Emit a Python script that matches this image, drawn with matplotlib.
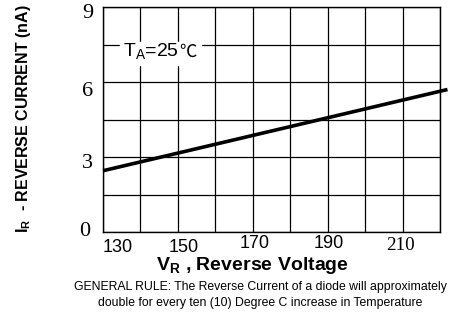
import matplotlib
matplotlib.use("Agg")
import matplotlib.pyplot as plt

# reverse voltage (V) vs reverse current (nA)
vr = [130, 222]
ir = [2.45, 5.7]

x_ticks = [130, 150, 170, 190, 210]
y_ticks = [9, 6, 3, 0]

W, H = 466, 313
SANS = "Liberation Sans"
SERIF = "Liberation Serif"

fig = plt.figure(figsize=(W / 100, H / 100), dpi=100)
ax = fig.add_axes([103 / W, 1 - 232 / H, 337 / W, 225 / H])

ax.set_xlim(130, 220)
ax.set_ylim(0, 9)
ax.set_xticks(range(130, 221, 10))
ax.set_yticks([i * 1.5 for i in range(7)])
ax.grid(True, color="black", lw=0.9)
ax.tick_params(length=0, labelbottom=False, labelleft=False)
for s in ax.spines.values():
    s.set_linewidth(1.0)
ax.set_axisbelow(True)

ax.plot(vr, ir, color="black", lw=2.6, clip_on=False, solid_capstyle="butt")


def px(x, y):
    return x / W, 1 - y / H


# tick labels placed by hand (the datasheet mixes fonts and baselines)
y_pos = {9: (93, 13.5), 6: (93, 92), 3: (93, 163.5), 0: (90, 231)}
for v in y_ticks:
    fig.text(*px(*y_pos[v]), str(v), ha="right", va="center",
             fontsize=16, family=SERIF)

x_pos = {130: (118, 247.5), 150: (184, 247.5), 170: (255, 244),
         190: (329, 244), 210: (400, 245.5)}
for v in x_ticks:
    serif = v == 210
    fig.text(*px(*x_pos[v]), str(v), ha="center", va="center",
             fontsize=13.8 if serif else 13, family=SERIF if serif else SANS)

# ambient temperature note with white box over the grid
fig.patches.append(plt.Rectangle(px(120, 65), 81 / W, 23 / H, color="white",
                                 transform=fig.transFigure, zorder=3))
fig.text(*px(123, 52), r"T$_\mathregular{A}$=25", ha="left", va="center",
         fontsize=14, family=SANS, zorder=4)
fig.text(*px(179, 52), "℃", ha="left", va="center", fontsize=12.5,
         family=["Noto Sans CJK SC", "DejaVu Sans"], fontweight="light", zorder=4)

fig.text(*px(24, 119), r"I$_\mathregular{R}$  - REVERSE CURRENT (nA)",
         rotation=90, ha="center", va="center", fontsize=11.5,
         fontweight="bold", family=SANS)

fig.text(*px(252, 265), r"V$_\mathregular{R}$ , Reverse Voltage",
         ha="center", va="center", fontsize=14, fontweight="bold",
         family=SANS)
fig.text(*px(260, 287),
         "GENERAL RULE: The Reverse Current of a diode will approximately",
         ha="center", va="center", fontsize=8.8, family=SANS)
fig.text(*px(260, 303),
         "double for every ten (10) Degree C increase in Temperature",
         ha="center", va="center", fontsize=8.8, family=SANS)

fig.savefig("out.png", dpi=100)
